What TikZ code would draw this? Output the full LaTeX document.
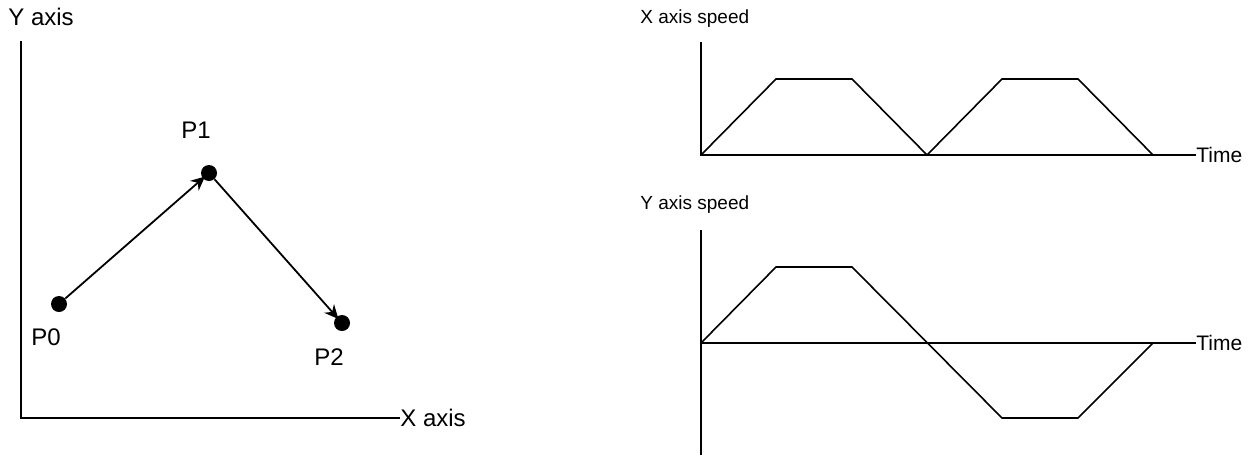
\documentclass[tikz,border=0pt]{standalone}
\usepackage{fontspec}
\setmainfont{Liberation Sans}
\usetikzlibrary{arrows.meta}
\begin{document}
\begin{tikzpicture}[x=0.5pt,y=-0.5pt,
  axisline/.style={line width=1pt},
  curve/.style={line width=0.8pt, line join=miter},
  dot/.style={circle, fill=black, inner sep=0pt, minimum size=8pt},
  biglabel/.style={font=\fontsize{12}{14}\selectfont, inner sep=0pt},
  smalllabel/.style={font=\fontsize{9.5}{11}\selectfont, inner sep=0pt},
  timelabel/.style={font=\fontsize{10.5}{12}\selectfont, inner sep=0pt},
  move/.style={line width=0.9pt, -{Stealth[length=7pt,width=6.5pt]}, shorten >=-1.5pt}]
\useasboundingbox (0,0) rectangle (1256,455);

% ---------- left panel ----------
\coordinate (lorig) at (21,418);
\coordinate (ltop) at (21,41);
\node[biglabel, anchor=west] (xaxislab) at (400,418) {X axis};
\node[biglabel, anchor=west] (yaxislab) at (8,17) {Y axis};
\draw[axisline] (ltop) -- (lorig) -- (xaxislab.west);

\node[dot] (p0) at (59,304) {};
\node[dot] (p1) at (209,173) {};
\node[dot] (p2) at (342,323) {};
\node[biglabel] (p0lab) at (46,337) {P0};
\node[biglabel] (p1lab) at (196,130) {P1};
\node[biglabel] (p2lab) at (329,357) {P2};
\draw[move] (p0) -- (p1);
\draw[move] (p1) -- (p2);

% ---------- top right: X axis speed ----------
\node[smalllabel, anchor=west] (xspeed) at (640,19) {X axis speed};
\coordinate (xo) at (701,155);
\coordinate (xtop) at (701,42);
\node[timelabel, anchor=west] (xtime) at (1196,155) {Time};
\draw[axisline] (xtop) -- (xo) -- (xtime.west);
\coordinate (xa) at (776,79);
\coordinate (xb) at (852,79);
\coordinate (xc) at (927,155);
\coordinate (xd) at (1002,79);
\coordinate (xe) at (1078,79);
\coordinate (xf) at (1153,155);
\draw[curve] (xo) -- (xa) -- (xb) -- (xc) -- (xd) -- (xe) -- (xf);

% ---------- bottom right: Y axis speed ----------
\node[smalllabel, anchor=west] (yspeed) at (640,205) {Y axis speed};
\coordinate (yo) at (701,343);
\coordinate (ytop) at (701,230);
\coordinate (ybot) at (701,455);
\node[timelabel, anchor=west] (ytime) at (1196,343) {Time};
\draw[axisline] (ytop) -- (ybot);
\draw[axisline] (yo) -- (ytime.west);
\coordinate (ya) at (776,267);
\coordinate (yb) at (852,267);
\coordinate (yc) at (1002,418);
\coordinate (yd) at (1078,418);
\coordinate (ye) at (1153,343);
\draw[curve] (yo) -- (ya) -- (yb) -- (yc) -- (yd) -- (ye);
\end{tikzpicture}
\end{document}
